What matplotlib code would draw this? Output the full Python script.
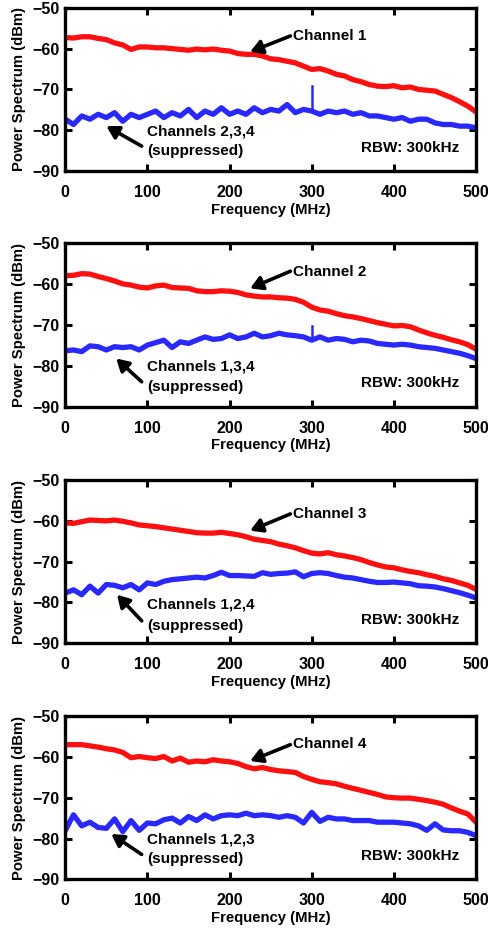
import numpy as np
import matplotlib
matplotlib.use('Agg')
import matplotlib.pyplot as plt

plt.rcParams['font.family'] = ['Liberation Sans', 'DejaVu Sans']
plt.rcParams['font.weight'] = 'bold'
plt.rcParams['font.size'] = 11

# frequency grid (MHz)
freq = np.arange(0, 501, 10)

# active channel spectra (dBm), one value every 10 MHz
ch1_active = [-57.3, -57.4, -57.1, -57.1, -57.5, -57.8, -58.6, -59.1, -60.2, -59.6,
              -59.6, -59.8, -59.8, -60.0, -60.2, -60.4, -60.1, -60.3, -60.1, -60.4,
              -60.6, -61.2, -61.4, -61.4, -61.8, -62.5, -62.7, -63.1, -63.5, -64.3,
              -65.1, -64.9, -65.5, -66.3, -66.7, -67.6, -68.1, -68.8, -69.2, -69.3,
              -69.1, -69.6, -69.4, -70.0, -70.2, -70.4, -71.2, -72.0, -73.0, -74.1, -75.5]
ch2_active = [-57.9, -57.8, -57.4, -57.5, -58.1, -58.6, -59.2, -59.9, -60.2, -60.7,
              -60.9, -60.4, -60.2, -60.8, -60.9, -61.0, -61.6, -61.8, -61.8, -61.6,
              -61.7, -62.0, -62.6, -62.9, -63.1, -63.1, -63.3, -63.4, -63.7, -64.4,
              -65.6, -66.3, -66.6, -67.2, -67.7, -68.0, -68.4, -68.9, -69.4, -69.8,
              -70.2, -70.1, -70.4, -71.2, -71.9, -72.5, -73.0, -73.6, -74.1, -74.8, -75.9]
ch3_active = [-60.5, -60.6, -60.2, -59.8, -59.9, -60.0, -59.8, -60.1, -60.5, -61.0,
              -61.2, -61.4, -61.7, -62.0, -62.3, -62.6, -62.9, -63.0, -63.0, -62.8,
              -63.1, -63.4, -63.9, -64.5, -64.8, -65.1, -65.7, -66.1, -66.6, -67.3,
              -67.9, -68.1, -67.8, -68.3, -68.6, -69.0, -69.5, -70.2, -70.8, -71.3,
              -71.5, -72.0, -72.4, -72.7, -73.2, -73.6, -74.2, -74.6, -75.2, -75.8, -76.8]
ch4_active = [-57.0, -57.0, -57.0, -57.3, -57.6, -58.0, -58.3, -58.9, -60.2, -59.9,
              -60.2, -60.4, -59.9, -61.0, -60.3, -61.3, -61.0, -61.2, -60.7, -61.0,
              -61.2, -61.6, -62.4, -62.9, -62.6, -63.1, -63.4, -63.6, -63.8, -64.8,
              -65.5, -66.1, -66.3, -66.6, -67.2, -67.7, -68.2, -68.7, -69.2, -69.8,
              -70.0, -70.1, -70.1, -70.4, -70.7, -71.1, -71.6, -72.5, -73.3, -74.0, -76.0]

# suppressed channels (dBm)
ch1_supp = [-77.3, -78.6, -76.5, -77.3, -76.1, -76.9, -75.7, -77.8, -76.1, -76.9,
            -76.1, -75.3, -76.9, -75.7, -76.5, -74.9, -76.9, -75.3, -76.1, -74.5,
            -76.1, -75.3, -76.1, -74.5, -75.7, -74.9, -75.3, -73.7, -75.7, -74.9,
            -75.3, -76.1, -75.3, -75.7, -75.3, -76.1, -75.7, -76.5, -76.5, -76.9,
            -77.3, -76.9, -77.8, -77.3, -77.3, -78.2, -78.6, -78.6, -79.0, -79.0, -79.4]
ch2_supp = [-76.3, -76.1, -76.5, -75.1, -75.3, -76.1, -75.3, -75.5, -75.3, -76.1,
            -74.9, -74.3, -73.7, -75.5, -74.1, -74.5, -73.7, -72.9, -73.5, -73.3,
            -72.4, -73.3, -72.9, -72.0, -72.9, -72.6, -72.0, -72.4, -72.6, -72.9,
            -73.7, -72.9, -73.7, -73.3, -73.5, -74.1, -73.7, -73.9, -74.5, -74.7,
            -74.9, -74.7, -74.9, -75.3, -75.5, -75.7, -76.1, -76.5, -76.9, -77.5, -78.2]
ch3_supp = [-77.7, -76.9, -78.1, -76.0, -77.7, -75.6, -75.8, -76.4, -75.6, -76.9,
            -75.2, -75.6, -74.8, -74.4, -74.2, -74.0, -73.8, -74.0, -73.4, -72.6,
            -73.4, -73.4, -73.5, -73.6, -72.7, -73.1, -72.9, -72.8, -72.5, -73.7,
            -72.9, -72.7, -72.9, -73.4, -73.8, -74.0, -74.4, -74.8, -75.1, -75.1,
            -75.0, -75.2, -75.4, -75.9, -76.0, -76.2, -76.6, -77.1, -77.6, -78.2, -78.9]
ch4_supp = [-78.0, -74.2, -76.9, -76.0, -77.3, -77.5, -75.2, -78.3, -75.6, -78.0,
            -76.2, -76.4, -75.4, -75.0, -76.2, -74.6, -75.6, -74.2, -75.2, -74.4,
            -74.2, -74.4, -73.8, -74.4, -74.2, -74.4, -74.8, -74.4, -74.8, -76.2,
            -73.6, -75.8, -74.8, -75.2, -75.2, -75.6, -75.6, -75.6, -76.0, -76.0,
            -76.0, -76.2, -76.4, -76.9, -78.0, -76.4, -77.9, -78.1, -78.1, -78.5, -79.3]

# narrow spur at 300 MHz in the suppressed trace (peak dBm, None = no spur)
spur_peak = [-69.2, -70.2, None, None]

active_names = ['Channel 1', 'Channel 2', 'Channel 3', 'Channel 4']
supp_names = ['Channels 2,3,4', 'Channels 1,3,4', 'Channels 1,2,4', 'Channels 1,2,3']
x_ticks = [0, 100, 200, 300, 400, 500]
y_ticks = [-50, -60, -70, -80, -90]

active = [ch1_active, ch2_active, ch3_active, ch4_active]
supp = [ch1_supp, ch2_supp, ch3_supp, ch4_supp]

# annotation anchors per panel: (label y, arrow tail y, arrow tip y) for active,
# and (line1 y, line2 y, tail y, tip x, tip y) for suppressed
act_ann = [(-56.9, -56.9, -60.8), (-56.9, -56.8, -61.0),
           (-58.3, -58.3, -62.4), (-56.8, -57.0, -61.0)]
sup_ann = [(-80.2, -85.1, -83.9, 50, -79.0), (-80.2, -85.1, -83.9, 62, -78.2),
           (-80.6, -85.7, -84.5, 63, -78.1), (-80.2, -85.1, -83.9, 56, -78.9)]

fig = plt.figure(figsize=(4.89, 9.30), dpi=100)
bottoms = [0.8161, 0.5627, 0.3083, 0.0545]

arrow = dict(arrowstyle='-|>,head_length=0.65,head_width=0.38', color='black',
             lw=2.6, shrinkA=0, shrinkB=0)

for i in range(4):
    ax = fig.add_axes([0.1335, bottoms[i], 0.840, 0.1755])
    ax.plot(freq, active[i], color='#ff1010', lw=3.8, solid_joinstyle='round')
    ax.plot(freq, supp[i], color='#2828ff', lw=3.8, solid_joinstyle='round')
    if spur_peak[i] is not None:
        base = supp[i][list(freq).index(300)]
        ax.plot([300, 300], [base, spur_peak[i]], color='#2828ff', lw=1.8)

    ax.set_xlim(0, 500)
    ax.set_ylim(-90, -50)
    ax.set_xticks(x_ticks)
    ax.set_yticks(y_ticks)
    ax.tick_params(direction='in', length=5, width=2.2, top=True, right=True,
                   labelsize=11.5)
    ax.tick_params(axis='x', pad=10)
    ax.tick_params(axis='y', pad=4)
    for lbl in ax.get_xticklabels() + ax.get_yticklabels():
        lbl.set_fontweight('bold')
    for s in ax.spines.values():
        s.set_linewidth(2.4)
    ax.set_xlabel('Frequency (MHz)', fontweight='bold', fontsize=10.7, labelpad=2)
    ax.set_ylabel('Power Spectrum (dBm)', fontweight='bold', fontsize=10.7, labelpad=5)

    ly, ty, py = act_ann[i]
    ax.annotate('', xy=(225, py), xytext=(274, ty), arrowprops=arrow)
    ax.text(277, ly, active_names[i], ha='left', va='center', fontsize=11,
            fontweight='bold')

    l1, l2, sty, tx, tpy = sup_ann[i]
    ax.annotate('', xy=(tx, tpy), xytext=(93, sty), arrowprops=arrow)
    ax.text(100, l1, supp_names[i], ha='left', va='center', fontsize=11,
            fontweight='bold')
    ax.text(100, l2, '(suppressed)', ha='left', va='center', fontsize=11,
            fontweight='bold')
    ax.text(479, -84.3, 'RBW: 300kHz', ha='right', va='center', fontsize=11,
            fontweight='bold')

fig.savefig('out.png', dpi=100)
